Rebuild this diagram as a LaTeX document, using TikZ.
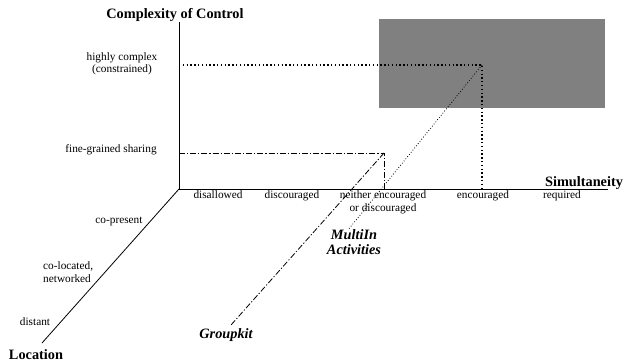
\documentclass[tikz,border=0pt]{standalone}
\usepackage{fontspec}
\setmainfont{Liberation Serif}
\tikzset{
  lbl/.style={font=\fontsize{11.3}{12.5}\selectfont, inner sep=0pt, align=center},
  ttl/.style={font=\fontsize{14.3}{15}\selectfont\bfseries, inner sep=0pt},
  sys/.style={font=\fontsize{14.3}{15}\selectfont\bfseries\itshape, inner sep=0pt, align=center},
  axis/.style={line width=0.8pt},
  ctrl/.style={dash pattern=on 1.3pt off 2.5pt, line width=1.3pt},
  share/.style={dash pattern=on 6pt off 2pt on 1.2pt off 2pt, line width=0.8pt},
}
\begin{document}
\begin{tikzpicture}[x=1pt,y=-1pt]
\useasboundingbox (0,0) rectangle (624,364);
\fill[gray] (379,19) rectangle (605,108);

% axes
\coordinate (o) at (179,189);
\coordinate (ctop) at (179,22);
\coordinate (send) at (608,189);
\coordinate (lend) at (42,343);
\draw[axis] (ctop) -- (o) -- (send);
\draw[axis] (o) -- (lend);
\node[ttl] (cc) at (175,15) {Complexity of Control};
\node[ttl] (sim) at (584,183) {Simultaneity};
\node[ttl] (loc) at (36,355) {Location};

% complexity levels
\node[lbl] (hc) at (122,64) {highly complex\\(constrained)};
\node[lbl] (fg) at (111,150) {fine-grained sharing};

% simultaneity levels
\foreach \x/\t in {218/disallowed, 292/discouraged, 483/encouraged, 562/required} % edit here for the levels
\node[lbl, anchor=north] (s\x) at (\x,190.5) {\t};
\node[lbl, anchor=north] (sne) at (383,190.5) {neither encouraged\\or discouraged};

% location levels
\node[lbl] (cp) at (119,222) {co-present};
\node[lbl, align=left, anchor=west] (cl) at (43,272) {co-located,\\networked};
\node[lbl] (di) at (35,322) {distant};

% MultiIn
\coordinate (mcl) at (179,65);
\coordinate (m) at (482,65);
\coordinate (mend) at (348,230);
\draw[ctrl] (mcl) -- (m) -- (m |- o);
\draw[dash pattern=on 0.8pt off 2pt, line width=0.8pt] (m) -- (mend);
\node[sys] (mi) at (354,242) {MultiIn\\Activities};

% Groupkit
\coordinate (gcl) at (179,153);
\coordinate (g) at (384,153);
\coordinate (gend) at (231,325);
\draw[share] (gcl) -- (g) -- (g |- o);
\draw[share] (g) -- (gend);
\node[sys] (gk) at (226,335) {Groupkit};
\end{tikzpicture}
\end{document}
